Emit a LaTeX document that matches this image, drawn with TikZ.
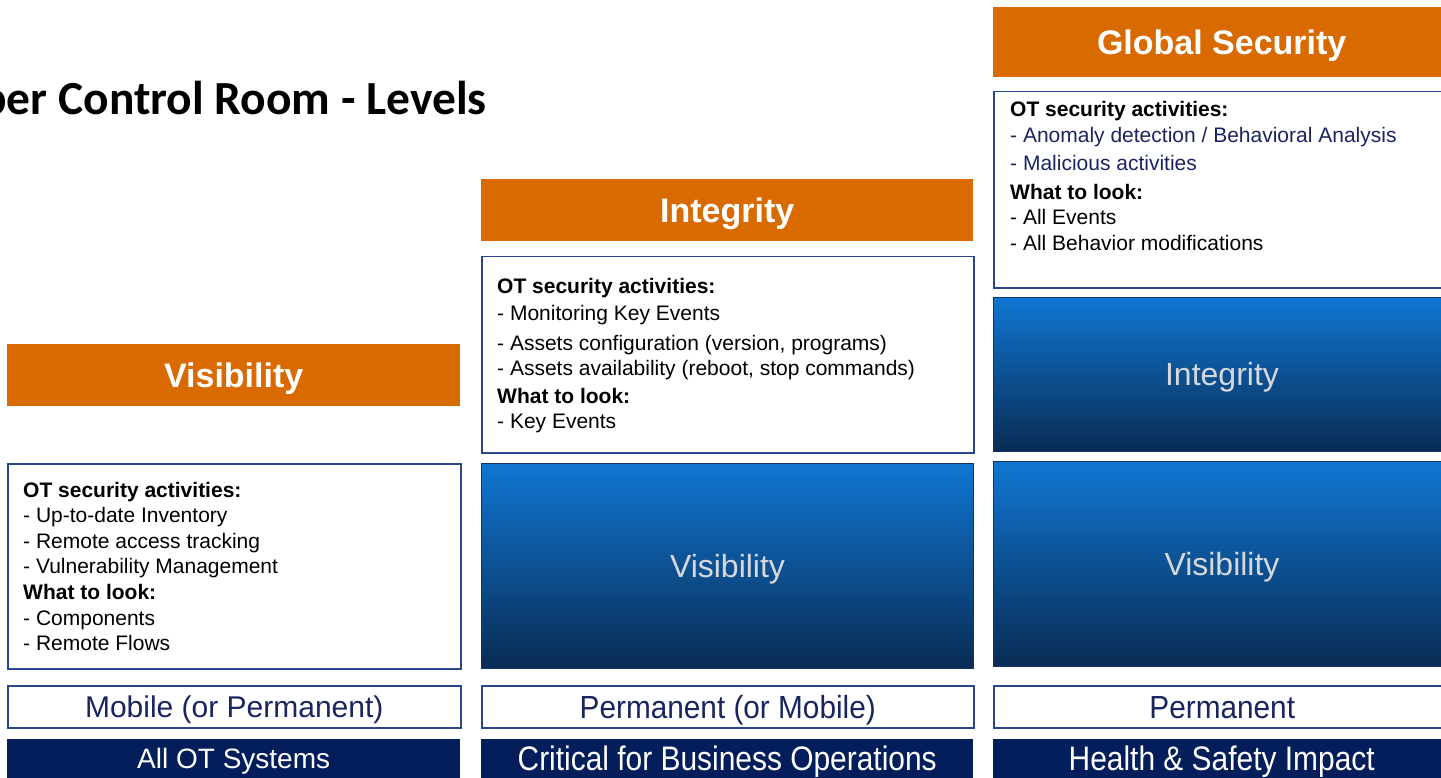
\documentclass[tikz,border=0pt]{standalone}
\usepackage{fontspec}
\usepackage{graphicx}
\setmainfont{Liberation Sans}
\newfontfamily\titlefont{Carlito}

\definecolor{levelorange}{RGB}{217,106,0}
\definecolor{framebd}{RGB}{40,70,140}
\definecolor{bluetop}{RGB}{16,118,210}
\definecolor{bluebot}{RGB}{9,44,84}
\definecolor{bluebd}{RGB}{22,50,110}
\definecolor{navybar}{RGB}{4,30,92}
\definecolor{navytext}{RGB}{26,37,96}
\definecolor{paletext}{RGB}{214,216,220}

\begin{document}
\begin{tikzpicture}[x=1pt,y=-1pt,
  panel/.style={rectangle, anchor=north west, inner sep=0pt, align=center},
  header/.style={panel, fill=levelorange, text=white,
    font=\fontsize{34}{40}\selectfont\bfseries, text height=24.3pt, text depth=0pt},
  infobox/.style={panel, draw=framebd, line width=1.5pt, fill=white},
  levelbox/.style={panel, draw=bluebd, line width=1pt, top color=bluetop, bottom color=bluebot,
    text=paletext, font=\fontsize{32}{38}\selectfont, text height=22.9pt, text depth=0pt},
  modebox/.style={panel, draw=framebd, line width=1.5pt, fill=white, text=navytext,
    text height=21.5pt, text depth=0pt},
  scopebar/.style={panel, fill=navybar, text=white, text height=21pt, text depth=0pt},
  ln/.style={anchor=base west, inner sep=0pt, font=\fontsize{21}{25}\selectfont},
  lnb/.style={ln, font=\fontsize{21}{25}\selectfont\bfseries}
]
\useasboundingbox (0,0) rectangle (1441,778);

% page title
\node[anchor=base east, inner sep=0pt, font=\titlefont\fontsize{47.5}{56}\selectfont\bfseries]
  (title) at (487,115) {Cyber Control Room - Levels};

% orange level headers
\node[header, minimum width=453pt, minimum height=62pt] (head1) at (7,344) {Visibility};
\node[header, minimum width=492pt, minimum height=62pt] (head2) at (481,179) {Integrity};
\node[header, minimum width=457pt, minimum height=70pt] (head3) at (993,7) {Global Security};

% activity frames
\node[infobox, minimum width=453pt, minimum height=205pt] (txt1) at (7,463) {};
\node[infobox, minimum width=492pt, minimum height=196pt] (txt2) at (481,256) {};
\node[infobox, minimum width=457pt, minimum height=196pt] (txt3) at (993,91) {};

% column 1 activities
\node[lnb] (a1) at (23,497)   {OT security activities:};
\node[ln]  (a2) at (23,522.6) {- Up-to-date Inventory};
\node[ln]  (a3) at (23,548.2) {- Remote access tracking};
\node[ln]  (a4) at (23,573.8) {- Vulnerability Management};
\node[lnb] (a5) at (23,599.4) {What to look:};
\node[ln]  (a6) at (23,625)   {- Components};
\node[ln]  (a7) at (23,650.6) {- Remote Flows};

% column 2 activities
\node[lnb] (b1) at (497,294) {OT security activities:};
\node[ln]  (b2) at (497,320) {- Monitoring Key Events};
\node[ln]  (b3) at (497,350) {- Assets configuration (version, programs)};
\node[ln]  (b4) at (497,375) {- Assets availability (reboot, stop commands)};
\node[lnb] (b5) at (497,403) {What to look:};
\node[ln]  (b6) at (497,428) {- Key Events};

% column 3 activities
\node[lnb] (c1) at (1010,116.7) {OT security activities:};
\node[ln, text=navytext] (c2) at (1010,142.7) {- Anomaly detection / Behavioral Analysis};
\node[ln, text=navytext] (c3) at (1010,170.7) {- Malicious activities};
\node[lnb] (c4) at (1010,199.3) {What to look:};
\node[ln]  (c5) at (1010,225)   {- All Events};
\node[ln]  (c6) at (1010,250.7) {- All Behavior modifications};

% inherited levels
\node[levelbox, minimum width=492pt, minimum height=205pt] (blue2) at (481,463) {Visibility};
\node[levelbox, minimum width=457pt, minimum height=154pt] (blue3a) at (993,297) {Integrity};
\node[levelbox, minimum width=457pt, minimum height=205pt] (blue3b) at (993,461) {Visibility};

% deployment mode
\node[modebox, minimum width=453pt, minimum height=42pt, font=\fontsize{30}{36}\selectfont]
  (mode1) at (7,685) {Mobile (or Permanent)};
\node[modebox, minimum width=492pt, minimum height=42pt, font=\fontsize{32}{38}\selectfont, text height=22.9pt]
  (mode2) at (481,685) {\scalebox{0.93}[1]{Permanent (or Mobile)}};
\node[modebox, minimum width=457pt, minimum height=42pt, font=\fontsize{32}{38}\selectfont, text height=22.9pt]
  (mode3) at (993,685) {\scalebox{0.93}[1]{Permanent}};

% scope bars
\node[scopebar, minimum width=453pt, minimum height=39pt, font=\fontsize{28}{34}\selectfont, text height=20pt]
  (scope1) at (7,739) {All OT Systems};
\node[scopebar, minimum width=492pt, minimum height=39pt, font=\fontsize{34}{40}\selectfont, text height=24.3pt]
  (scope2) at (481,739) {\scalebox{0.88}[1]{Critical for Business Operations}};
\node[scopebar, minimum width=457pt, minimum height=39pt, font=\fontsize{34}{40}\selectfont, text height=24.3pt]
  (scope3) at (993,739) {\scalebox{0.88}[1]{Health \& Safety Impact}};
\end{tikzpicture}
\end{document}
